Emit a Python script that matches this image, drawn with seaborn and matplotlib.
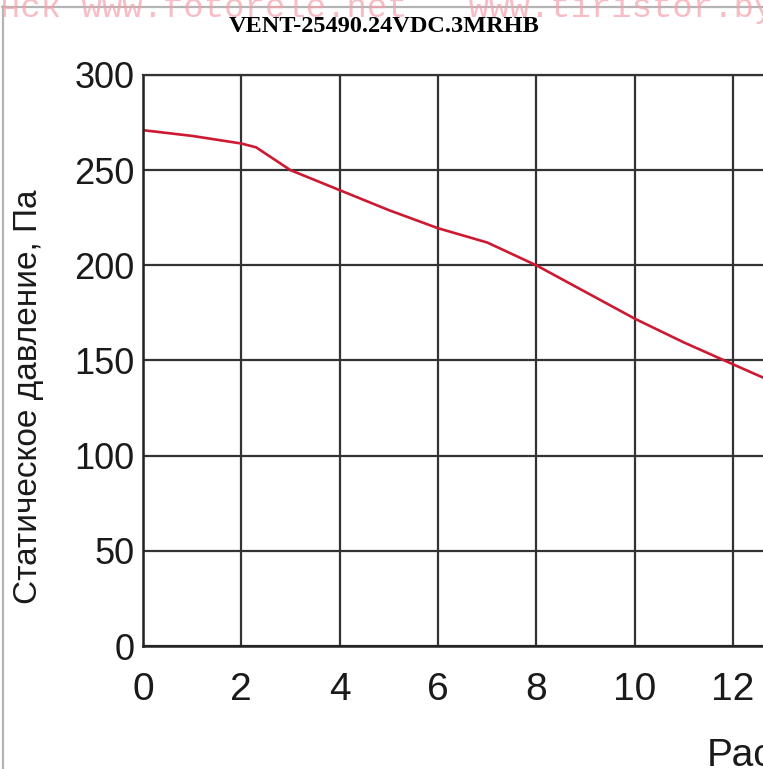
import matplotlib
matplotlib.use("Agg")
import matplotlib.pyplot as plt
import seaborn as sns
import pandas as pd
from matplotlib.lines import Line2D

# data
flow = [0, 1, 2, 2.3, 3, 4, 5, 6, 7, 8, 9, 10, 11, 12, 12.7]
pressure = [271, 268, 264, 262, 250, 239.5, 229, 219.5, 212, 200, 186, 172, 159.5, 148, 140]
x_ticks = [0, 2, 4, 6, 8, 10, 12]
y_ticks = [0, 50, 100, 150, 200, 250, 300]

title = "VENT-25490.24VDC.3MRHB"
y_label = "Статическое давление, Па"
x_label = "Расход воздуха, м³/ч"
watermark = "нск www.fotorele.net   www.tiristor.by"

df = pd.DataFrame({"flow": flow, "pressure": pressure})

sns.set_style("white")
plt.rcParams["font.family"] = ["Liberation Sans", "DejaVu Sans"]

W, H = 763, 769
fig = plt.figure(figsize=(W / 100, H / 100), dpi=100)
ax = fig.add_axes([143 / W, 123 / H, 620 / W, 571 / H])

grid_col = "#333333"
ax.set_xticks(x_ticks)
ax.set_yticks(y_ticks)
ax.grid(True, color=grid_col, linewidth=1.6)
ax.set_axisbelow(True)

sns.lineplot(data=df, x="flow", y="pressure", ax=ax, color="#cd1932", linewidth=1.9)

ax.set_xlim(0, 12.61)
ax.set_ylim(0, 300)
ax.set_xlabel("")
ax.set_ylabel("")

for side in ["left", "bottom"]:
    ax.spines[side].set_color("#222222")
    ax.spines[side].set_linewidth(1.8)
ax.spines["top"].set_color(grid_col)
ax.spines["top"].set_linewidth(1.6)
ax.spines["right"].set_visible(False)

ax.tick_params(axis="y", length=0, pad=6, labelsize=26, labelcolor="#1a1a1a")
ax.tick_params(axis="x", length=0, pad=19, labelsize=28, labelcolor="#1a1a1a")

fig.text(29 / W, 1 - 397 / H, y_label, rotation=90, fontsize=24, color="#1a1a1a",
         ha="center", va="center")
fig.text(707 / W, 1 - 766 / H, x_label, fontsize=28, color="#1a1a1a",
         ha="left", va="baseline")

# title and watermark at the top
fig.text(0, 1 - 17.5 / H, watermark, fontsize=24.5, family="Liberation Mono",
         color="#f5a0ac", alpha=0.7, ha="left", va="baseline")
fig.text(384 / W, 1 - 27 / H, title, fontsize=17.5, fontweight="bold",
         family="Liberation Serif", ha="center", va="center", color="black")

# grey frame lines of the source image
fig.add_artist(Line2D([2.5 / W, 2.5 / W], [0, 1 - 6 / H], color="#b4b4b4", linewidth=1.6))
fig.add_artist(Line2D([2 / W, 1], [1 - 6.5 / H, 1 - 6.5 / H], color="#b4b4b4", linewidth=1.6))

fig.savefig("out.png", dpi=100)
